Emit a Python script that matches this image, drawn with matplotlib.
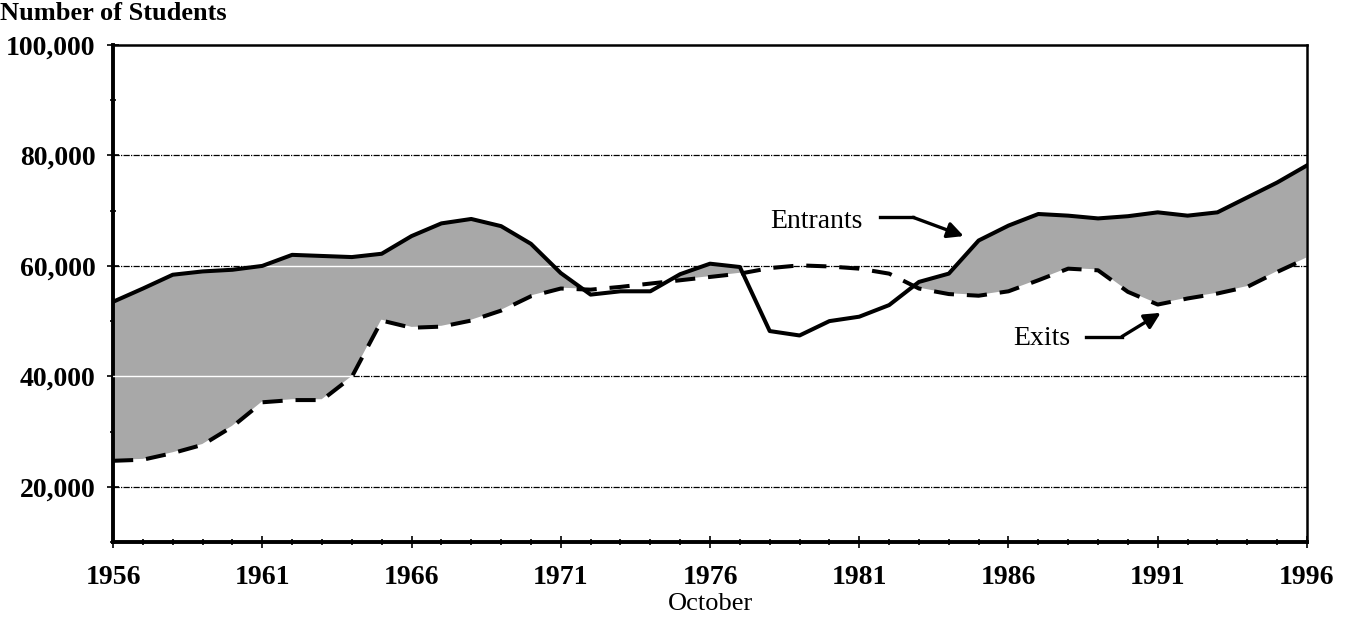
import numpy as np
import matplotlib.pyplot as plt
from matplotlib.ticker import MultipleLocator, FuncFormatter

plt.rcParams['font.family'] = ['Liberation Serif', 'DejaVu Serif']

####################################################################################################
# Data (October counts)
years = np.arange(1956, 1997)
entrants = [53500, 55900, 58400, 59000, 59300, 60000, 62000, 61800, 61600, 62200,
            65400, 67700, 68500, 67200, 64000, 58700, 54800, 55400, 55400, 58500,
            60400, 59800, 48200, 47400, 50000, 50800, 52900, 57100, 58600, 64600,
            67300, 69400, 69100, 68600, 69000, 69700, 69100, 69700, 72400, 75100,
            78200]
exits = [24700, 24900, 26100, 27600, 30900, 35300, 35700, 35700, 39900, 50100,
         48800, 49000, 50100, 51900, 54500, 55900, 55700, 56200, 56800, 57400,
         58000, 58600, 59600, 60100, 59900, 59500, 58600, 55900, 54900, 54600,
         55400, 57400, 59500, 59200, 55300, 53000, 54100, 55000, 56200, 58900,
         61400]
y_ticks = [20000, 40000, 60000, 80000, 100000]
x_ticks = [1956, 1961, 1966, 1971, 1976, 1981, 1986, 1991, 1996]

entrants = np.array(entrants)
exits = np.array(exits)

####################################################################################################
fig = plt.figure(figsize=(13.46, 6.17), dpi=100)
ax = fig.add_axes([0.084, 0.1216, 0.887, 0.8054])

# grid lines (black, dash-dot) under everything
for v in y_ticks[:-1]:
    ax.axhline(v, color='black', lw=0.9, ls=(0, (5, 1, 1, 1)), zorder=1)

# shaded gap where entrants exceed exits
band = ax.fill_between(years, entrants, exits, where=entrants >= exits, interpolate=True,
                       facecolor='#a8a8a8', edgecolor='white', lw=1.2, zorder=2)

# grid lines show up white inside the shaded band
for v in y_ticks[:-1]:
    wl = ax.axhline(v, color='white', lw=1.0, zorder=3)
    wl.set_clip_path(band.get_paths()[0], ax.transData)

ax.plot(years, entrants, color='black', lw=2.9, solid_joinstyle='round', zorder=5)
ex_line, = ax.plot(years, exits, color='black', lw=2.9, zorder=4)
ex_line.set_dashes((5, 3.2))

ax.set_xlim(1956, 1996)
ax.set_ylim(10000, 100000)

ax.xaxis.set_major_locator(plt.FixedLocator(x_ticks))
ax.xaxis.set_minor_locator(MultipleLocator(1))
ax.yaxis.set_major_locator(plt.FixedLocator(y_ticks))
ax.yaxis.set_minor_locator(MultipleLocator(10000))
ax.yaxis.set_major_formatter(FuncFormatter(lambda v, p: '{:,.0f}'.format(v)))

ax.tick_params(axis='both', which='major', direction='inout', length=9, width=1.2,
               labelsize=20, colors='black')
ax.tick_params(axis='x', which='major', pad=12)
ax.tick_params(axis='y', which='major', pad=8)
ax.tick_params(axis='both', which='minor', direction='inout', length=5, width=1.2)
for lab in ax.get_xticklabels() + ax.get_yticklabels():
    lab.set_fontweight('bold')

ax.spines['left'].set_linewidth(2.8)
ax.spines['bottom'].set_linewidth(2.8)
ax.spines['top'].set_linewidth(1.8)
ax.spines['right'].set_linewidth(1.8)

ax.set_xlabel('October', fontsize=19, labelpad=2)
fig.text(0.0, 0.978, 'Number of Students', fontsize=19, fontweight='bold', va='center', ha='left')

# callouts
arrow_kw = dict(arrowstyle='-|>', lw=2.4, color='black', mutation_scale=24,
                shrinkA=0, shrinkB=0)
ax.text(1978.0, 68100, 'Entrants', fontsize=20, va='center', ha='left')
ax.plot([1981.7, 1982.8], [68800, 68800], color='black', lw=2.4)
ax.annotate('', xy=(1984.5, 65400), xytext=(1982.8, 68800), arrowprops=arrow_kw)

ax.text(1986.15, 46900, 'Exits', fontsize=20, va='center', ha='left')
ax.plot([1988.6, 1989.8], [47200, 47200], color='black', lw=2.4)
ax.annotate('', xy=(1991.1, 51500), xytext=(1989.8, 47200), arrowprops=arrow_kw)

fig.savefig('out.png', dpi=100)
